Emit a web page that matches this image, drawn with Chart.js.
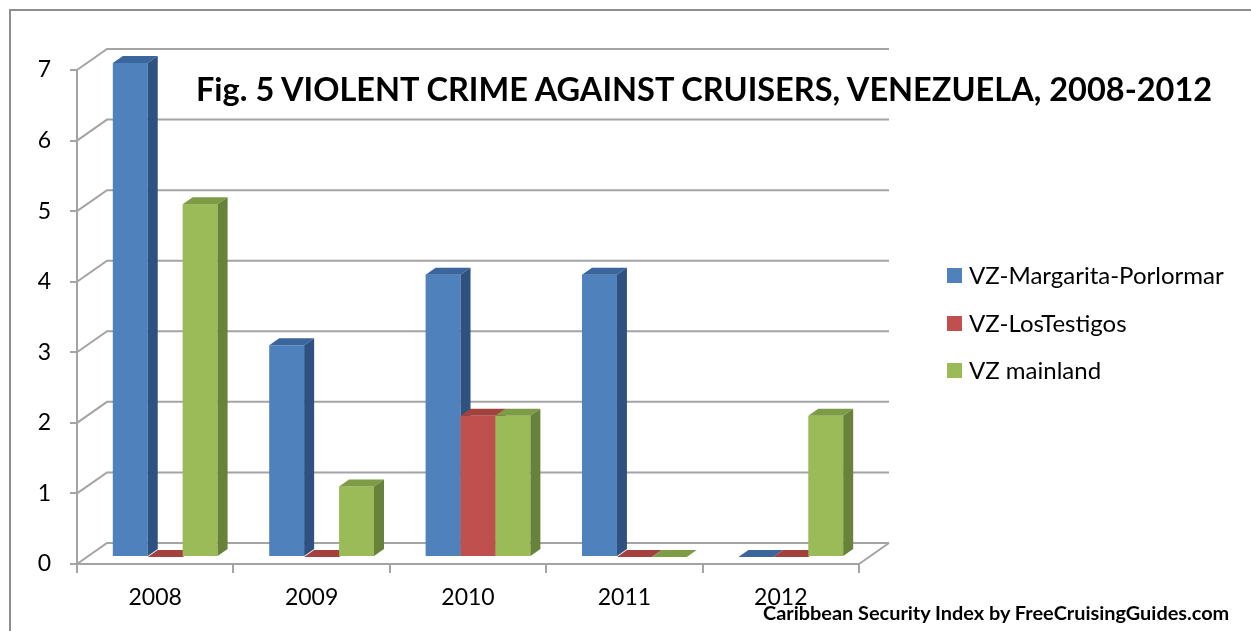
<!DOCTYPE html>
<html>
<head>
  <meta charset="UTF-8">
  <title>Fig. 5 Violent crime against cruisers, Venezuela, 2008-2012</title>
  <script src="https://cdn.jsdelivr.net/npm/chart.js"></script>
  <style>
    html, body { margin: 0; padding: 0; background: #fff; overflow: hidden; }
    body { width: 1251px; height: 631px; position: relative; font-family: Lato, "Open Sans", sans-serif; }
    .wrap { position: absolute; left: 0; top: 0; width: 1251px; height: 631px; }
    .frame { position: absolute; left: 9px; top: 9px; width: 1300px; height: 700px; border: 2px solid #8e8e8e; box-sizing: border-box; pointer-events: none; }
    .title { position: absolute; left: 196px; top: 73px; font-size: 32.5px; font-weight: 700; line-height: 32.5px; white-space: nowrap; color: #000; }
    .legend { position: absolute; left: 947px; top: 262px; }
    .legend-item { height: 47.5px; display: flex; align-items: flex-start; font-size: 24px; line-height: 26px; white-space: nowrap; }
    .legend-item .box { width: 15px; height: 15px; margin: 6px 7px 0 0; }
    .footer { position: absolute; left: 763px; top: 602px; font-size: 19.9px; font-weight: 700; line-height: 20px; white-space: nowrap; color: #000; }
  </style>
</head>
<body>
  <div class="wrap"><canvas id="chart"></canvas></div>
  <div class="frame"></div>
  <div class="title" id="title"></div>
  <div class="legend" id="legend"></div>
  <div class="footer" id="footer"></div>

  <script>
    // data
    const years = ['2008', '2009', '2010', '2011', '2012'];
    const seriesNames = ['VZ-Margarita-Porlormar', 'VZ-LosTestigos', 'VZ mainland'];
    const margarita = [7, 3, 4, 4, 0];
    const losTestigos = [0, 0, 2, 0, 0];
    const mainland = [5, 1, 2, 0, 2];
    const yTicks = [0, 1, 2, 3, 4, 5, 6, 7];
    const titleText = 'Fig. 5 VIOLENT CRIME AGAINST CRUISERS, VENEZUELA, 2008-2012';
    const footerText = 'Caribbean Security Index by FreeCruisingGuides.com';

    // face colours for each series: front, top, side
    const faces = [
      { front: '#4f81bd', top: '#3b659d', side: '#2f5182' },
      { front: '#c0504d', top: '#a2413e', side: '#8a3533' },
      { front: '#9bbb59', top: '#7e9b45', side: '#68823a' }
    ];

    // depth of the floor/walls and where the bars sit inside it
    const DEPTH_X = 30, DEPTH_Y = -21;
    const BAR_OFF_X = 10, BAR_OFF_Y = -7;
    const BAR_DX = 10, BAR_DY = -7;
    const GRID = '#a4a4a4';

    document.getElementById('title').textContent = titleText;
    document.getElementById('footer').textContent = footerText;
    const legend = document.getElementById('legend');
    seriesNames.forEach((name, i) => {
      const row = document.createElement('div');
      row.className = 'legend-item';
      row.innerHTML = `<span class="box" style="background:${faces[i].front}"></span><span>${name}</span>`;
      legend.appendChild(row);
    });

    // back wall, side wall and floor lines
    const walls = {
      id: 'walls',
      beforeDatasetsDraw(chart) {
        const { ctx, chartArea: a, scales: { y } } = chart;
        ctx.save();
        ctx.strokeStyle = GRID;
        ctx.lineWidth = 2;
        ctx.beginPath();
        yTicks.forEach(v => {
          const py = y.getPixelForValue(v);
          ctx.moveTo(a.left, py);
          ctx.lineTo(a.left + DEPTH_X, py + DEPTH_Y);
          ctx.lineTo(a.right + DEPTH_X, py + DEPTH_Y);
        });
        const base = y.getPixelForValue(0);
        ctx.moveTo(a.right, base);
        ctx.lineTo(a.right + DEPTH_X, base + DEPTH_Y);
        ctx.stroke();
        ctx.restore();
      }
    };

    // bars as boxes: front face, top face, right side face
    const boxes = {
      id: 'boxes',
      afterDatasetsDraw(chart) {
        const ctx = chart.ctx;
        const metas = chart.data.datasets.map((d, i) => chart.getDatasetMeta(i));
        ctx.save();
        years.forEach((yr, c) => {
          metas.forEach((meta, s) => {
            const el = meta.data[c];
            const f = faces[s];
            const l = el.x - el.width / 2 + BAR_OFF_X;
            const r = l + el.width;
            const t = el.y + BAR_OFF_Y;
            const b = el.base + BAR_OFF_Y;
            ctx.fillStyle = f.front;
            ctx.fillRect(l, t, r - l, b - t);
            ctx.fillStyle = f.top;
            ctx.beginPath();
            ctx.moveTo(l, t);
            ctx.lineTo(r, t);
            ctx.lineTo(r + BAR_DX, t + BAR_DY);
            ctx.lineTo(l + BAR_DX, t + BAR_DY);
            ctx.closePath();
            ctx.fill();
            ctx.fillStyle = f.side;
            ctx.beginPath();
            ctx.moveTo(r, t);
            ctx.lineTo(r + BAR_DX, t + BAR_DY);
            ctx.lineTo(r + BAR_DX, b + BAR_DY);
            ctx.lineTo(r, b);
            ctx.closePath();
            ctx.fill();
          });
        });
        ctx.restore();
      }
    };

    const tickFont = { family: 'Lato, "Open Sans", sans-serif', size: 23 };

    new Chart(document.getElementById('chart'), {
      type: 'bar',
      data: {
        labels: years,
        datasets: [margarita, losTestigos, mainland].map((vals, i) => ({
          label: seriesNames[i],
          data: vals,
          backgroundColor: 'rgba(0,0,0,0)',
          borderWidth: 0,
          categoryPercentage: 0.67,
          barPercentage: 1
        }))
      },
      options: {
        responsive: true,
        maintainAspectRatio: false,
        animation: false,
        devicePixelRatio: 1,
        layout: { padding: { left: 0, top: 70, right: 392, bottom: 0 } },
        plugins: { legend: { display: false }, title: { display: false }, tooltip: { enabled: false } },
        scales: {
          x: {
            afterFit(s) { s.height = 67; },
            border: { color: GRID, width: 2 },
            grid: { drawOnChartArea: false, drawTicks: true, tickLength: 9, color: GRID, lineWidth: 2, offset: true },
            ticks: { color: '#000', font: tickFont, padding: 11 }
          },
          y: {
            min: 0,
            max: 7,
            afterFit(s) { s.width = 77; },
            afterBuildTicks(s) { s.ticks = yTicks.map(v => ({ value: v })); },
            border: { color: GRID, width: 2 },
            grid: { drawOnChartArea: false, drawTicks: true, tickLength: 7, color: GRID, lineWidth: 2 },
            ticks: { color: '#000', font: tickFont, padding: 19 }
          }
        }
      },
      plugins: [walls, boxes]
    });
  </script>
</body>
</html>
